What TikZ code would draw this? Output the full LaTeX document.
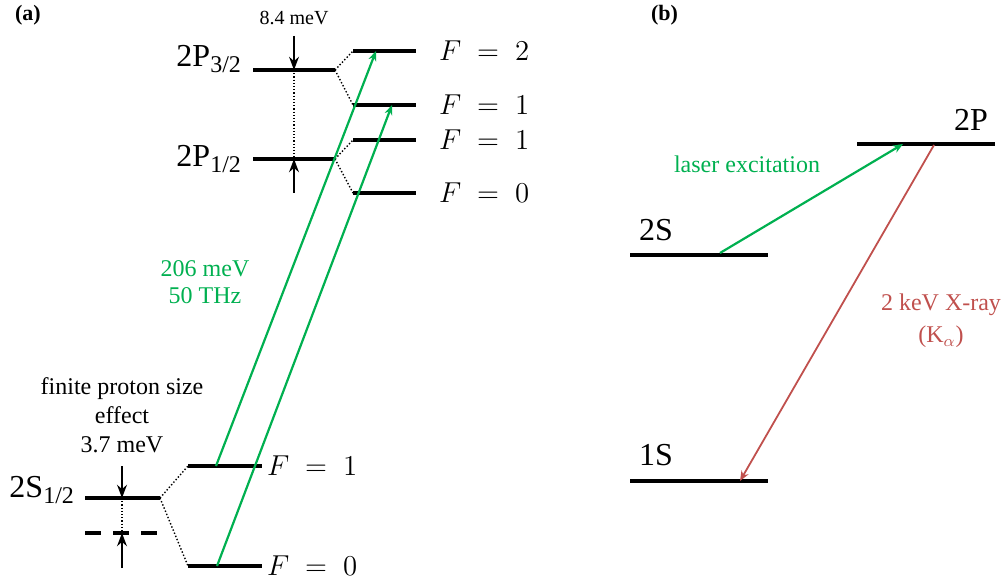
\documentclass[tikz,border=0pt]{standalone}
\usepackage{fontspec}
\setmainfont{Liberation Serif}
\usepackage{tikz}
\usetikzlibrary{arrows.meta,calc,positioning}
\usepackage{xcolor}
\definecolor{lasergreen}{HTML}{00B050}
\definecolor{xrayred}{HTML}{C0504D}
\newcommand{\fs}[2]{\fontsize{#1}{#2}\selectfont}
\newcommand{\lsub}[1]{\raisebox{-3pt}{\fs{12}{12}#1}}

\begin{document}
\begin{tikzpicture}[>=Stealth,x=0.5pt,y=-0.5pt,
  level/.style={line width=1.6pt},
  split/.style={densely dotted,line width=0.7pt},
  gap/.style={->,line width=0.8pt},
  pump/.style={-{Stealth[length=5pt,width=4pt]},lasergreen,line width=1.1pt},
  emit/.style={-{Stealth[length=5pt,width=4pt]},xrayred,line width=0.9pt},
  state/.style={font=\fs{16}{16}},
  fnum/.style={anchor=west,font=\fs{14.5}{14.5}}]
  \useasboundingbox (0,0) rectangle (1006,582);
  % (a) muonic hydrogen n=2
  \node[font=\fs{11}{11}\bfseries,anchor=west] (pa) at (8,15) {(a)};
  \coordinate (p32L) at (253,70);  \coordinate (p32R) at (335,70);
  \coordinate (p12L) at (253,159); \coordinate (p12R) at (335,159);
  \coordinate (s12L) at (85,498);  \coordinate (s12R) at (160,498);
  \foreach \y/\n in {51/a,105/b,140/c,193/d}{
    \coordinate (hf\n L) at (353,\y); \coordinate (hf\n R) at (416,\y);
    \draw[level] (hf\n L) -- (hf\n R);}
  \coordinate (s1L) at (188,466); \coordinate (s1R) at (262,466);
  \coordinate (s0L) at (188,566); \coordinate (s0R) at (262,566);
  \draw[level] (p32L) -- (p32R);
  \draw[level] (p12L) -- (p12R);
  \draw[level] (s12L) -- (s12R);
  \draw[level] (s1L) -- (s1R);
  \draw[level] (s0L) -- (s0R);
  \draw[level,dash pattern=on 8pt off 6pt] (85,533) -- (160,533);
  \draw[split] (p32R) -- (hfaL); \draw[split] (p32R) -- (hfbL);
  \draw[split] (p12R) -- (hfcL); \draw[split] (p12R) -- (hfdL);
  \draw[split] (s12R) -- (s1L);  \draw[split] (s12R) -- (s0L);
  \node[state,anchor=base east] (p32) at (248,67) {2P\lsub{3/2}};
  \node[state,anchor=base east] (p12) at (248,167) {2P\lsub{1/2}};
  \node[state,anchor=base east] (s12) at (81,497) {2S\lsub{1/2}};
  \node[fnum] (fa) at (432,51) {$F\;=\;2$};
  \node[fnum] (fb) at (432,105) {$F\;=\;1$};
  \node[fnum] (fc) at (432,140) {$F\;=\;1$};
  \node[fnum] (fd) at (432,193) {$F\;=\;0$};
  \node[fnum] (f1) at (260,466) {$F\;=\;1$};
  \node[fnum] (f0) at (260,566) {$F\;=\;0$};
  % fine structure splitting
  \node[font=\fs{10}{10}] (fsl) at (294,18) {8.4 meV};
  \coordinate (fsTop) at (294,36); \coordinate (fsBot) at (294,193);
  \draw[gap] (fsTop) -- (294,70);
  \draw[gap] (fsBot) -- (294,159);
  \draw[split,line width=0.6pt] (294,70) -- (294,159);
  % proton size
  \node[font=\fs{12}{14.4},align=center] (psl) at (122,415) {finite proton size\\effect\\3.7 meV};
  \coordinate (psTop) at (122,466); \coordinate (psBot) at (122,568);
  \draw[gap] (psTop) -- (122,498);
  \draw[gap] (psBot) -- (122,533);
  \draw[split,line width=0.6pt] (122,498) -- (122,533);
  % laser transitions
  \coordinate (t1a) at (216,466); \coordinate (t1b) at (376,51);
  \coordinate (t2a) at (217,566); \coordinate (t2b) at (392,105);
  \draw[pump] (t1a) -- (t1b);
  \draw[pump] (t2a) -- (t2b);
  \node[font=\fs{12}{13.5},text=lasergreen,align=center] (lt) at (205,282) {206 meV\\50 THz};
  % (b) scheme
  \node[font=\fs{11}{11}\bfseries,anchor=west] (pb) at (644,15) {(b)};
  \coordinate (tpL) at (857,144); \coordinate (tpR) at (995,144);
  \coordinate (tsL) at (630,255); \coordinate (tsR) at (768,255);
  \coordinate (osL) at (630,481); \coordinate (osR) at (768,481);
  \draw[level] (tpL) -- (tpR);
  \draw[level] (tsL) -- (tsR);
  \draw[level] (osL) -- (osR);
  \node[state,anchor=base east] (tp) at (995,131) {2P};
  \node[state,anchor=base west] (ts) at (632,241) {2S};
  \node[state,anchor=base west] (os) at (632,466) {1S};
  \coordinate (g1) at (720,253); \coordinate (g2) at (903,144);
  \coordinate (r1) at (934,145); \coordinate (r2) at (740,481);
  \draw[pump] (g1) -- (g2);
  \draw[emit] (r1) -- (r2);
  \node[font=\fs{12}{12},text=lasergreen] (le) at (747,164) {laser excitation};
  \node[font=\fs{12}{16},text=xrayred,align=center] (xr) at (941,321) {2 keV X-ray\\(K$_\alpha$)};
\end{tikzpicture}
\end{document}
